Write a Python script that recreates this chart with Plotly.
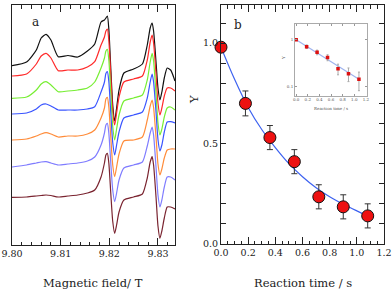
import plotly.graph_objects as go

# ---------------- data: panel a (EPR spectra, arbitrary units, offset stacked) -------------
field_T = [9.8000, 9.8030, 9.8050, 9.8060, 9.8070, 9.8080, 9.8095, 9.8115, 9.8135, 9.8155,
           9.8170, 9.8183, 9.8190, 9.8193, 9.8196, 9.8199, 9.8203, 9.8207, 9.8211, 9.8215,
           9.8220, 9.8230, 9.8250, 9.8268, 9.8278, 9.8284, 9.8288, 9.8291, 9.8296, 9.8300,
           9.8304, 9.8308, 9.8313, 9.8319, 9.8326, 9.8335]

spec_black = [184.3, 188, 200, 212, 215.7, 210, 193.3, 194.5, 193, 199, 206, 228, 230,
              232, 234, 221, 182, 145, 129, 142, 160, 177, 181, 186, 205, 222, 227, 219,
              188, 162, 150, 158, 172, 182, 180, 169]
spec_red = [174, 176, 186, 194, 196.7, 192, 179.3, 180, 180, 183, 188.3, 205, 213,
            219, 221, 209.5, 175, 139, 125, 137, 153, 168, 171, 174, 190, 208, 215, 207,
            176, 147, 135, 142, 154, 162, 162, 159]
spec_green = [151.7, 153, 160, 166, 168.3, 165, 158.3, 159, 160, 162, 168, 182, 192,
              199, 200.7, 190, 157, 124, 110, 121, 135, 149, 152, 155, 170, 188, 196.7, 189,
              156, 127, 115, 121, 133, 142, 143, 140]
spec_blue = [136, 137, 141, 145, 146, 144, 140, 140, 140, 141, 143.3, 158, 168,
             176.5, 178.3, 168.5, 137, 107.5, 95, 105, 118, 132, 135, 138, 152, 168, 176, 168,
             138, 110.5, 99, 105, 118, 128, 128.3, 127]
spec_orange = [110, 111, 114, 116, 117.3, 116, 113, 114, 114, 116, 120, 132, 142,
               151, 152.7, 143, 113, 85, 73.3, 83, 96, 109, 110, 113, 130, 144, 150, 142.5,
               113, 86, 75, 81, 92, 100, 101, 101]
spec_violet = [83, 85, 87, 88, 88.3, 87, 85, 86, 87, 89, 93, 105, 117,
               125, 126.7, 117, 87, 60, 48.3, 57, 70, 82, 85, 88, 104, 117, 123, 115,
               83, 55, 43, 50, 63, 73, 73, 70]
spec_maroon = [52.7, 53, 54, 54.5, 55, 54.5, 53, 54, 55, 57, 60, 73, 87,
               95, 96.7, 87, 57, 28.7, 16.7, 25, 38, 50, 53, 56, 72, 88, 93.3, 85,
               53, 24, 11.7, 19, 32, 43, 43, 41]

spectra = [spec_black, spec_red, spec_green, spec_blue, spec_orange, spec_violet, spec_maroon]
spec_colors = ["#111111", "#ff2a2a", "#77ee33", "#3a55ff", "#ff8c3a", "#7f7cff", "#7a2430"]

field_ticks = [9.80, 9.81, 9.82, 9.83]
field_ticktext = ["9.80", "9.81", "9.82", "9.83"]

# ---------------- data: panel b ----------------
time_s = [0.0, 0.18, 0.36, 0.54, 0.72, 0.90, 1.08]
Y_vals = [0.98, 0.70, 0.53, 0.41, 0.235, 0.185, 0.14]
Y_err = [0.0, 0.062, 0.06, 0.06, 0.06, 0.06, 0.06]

fit_t = [0.0, 0.1, 0.2, 0.3, 0.4, 0.5, 0.6, 0.7, 0.8, 0.9, 1.0, 1.08]
fit_Y = [0.98, 0.82, 0.68, 0.57, 0.48, 0.40, 0.335, 0.28, 0.235, 0.198, 0.165, 0.14]

y_tickvals = [0.0, 0.1, 0.2, 0.3, 0.4, 0.5, 0.6, 0.7, 0.8, 0.9, 1.0, 1.1]
y_ticktext = ["0.0", "", "", "", "", "0.5", "", "", "", "", "1.0", ""]

FONT = "DejaVu Serif"
W, H = 392, 291


def px(x):
    return x / W


def py(y):
    return 1 - y / H


fig = go.Figure()

for spec, col in zip(spectra, spec_colors):
    fig.add_trace(go.Scatter(x=field_T, y=spec, mode="lines",
                             line=dict(color=col, width=1.2, shape="spline", smoothing=0.6),
                             xaxis="x", yaxis="y", showlegend=False, hoverinfo="skip"))

fig.add_trace(go.Scatter(x=fit_t, y=fit_Y, mode="lines",
                         line=dict(color="#3d62f0", width=1.2, shape="spline"),
                         xaxis="x2", yaxis="y2", showlegend=False))
fig.add_trace(go.Scatter(x=time_s, y=Y_vals, mode="markers",
                         marker=dict(size=12, color="#ee1111", line=dict(color="#111111", width=1)),
                         error_y=dict(type="data", array=Y_err, color="#333333", thickness=1, width=3),
                         cliponaxis=False, xaxis="x2", yaxis="y2", showlegend=False))

# inset
fig.add_trace(go.Scatter(x=fit_t, y=fit_Y, mode="lines",
                         line=dict(color="#9fb3ee", width=1.2),
                         xaxis="x3", yaxis="y3", showlegend=False))
fig.add_trace(go.Scatter(x=time_s, y=Y_vals, mode="markers",
                         marker=dict(size=3.5, color="#dd1111", symbol="square"),
                         error_y=dict(type="data", array=Y_err, color="#aaaaaa", thickness=1, width=1),
                         xaxis="x3", yaxis="y3", showlegend=False))

axis_common = dict(showline=True, linecolor="#222222", linewidth=1, mirror="allticks",
                   showgrid=False, zeroline=False, ticks="inside", automargin=False,
                   tickfont=dict(family=FONT, size=9.5, color="#222222"))


def label(text, x, y, size, color="#222222", angle=0):
    return dict(text=text, x=px(x), y=py(y), xref="paper", yref="paper",
                xanchor="center", yanchor="middle", textangle=angle,
                showarrow=False, font=dict(family=FONT, size=size, color=color))


fig.update_layout(
    width=W, height=H,
    margin=dict(l=0, r=0, t=0, b=0, pad=0, autoexpand=False),
    paper_bgcolor="white", plot_bgcolor="white",
    xaxis=dict(domain=[px(12), px(175)], range=[9.80, 9.8335], anchor="y",
               tickvals=field_ticks, ticktext=field_ticktext, ticklen=7, tickcolor="#222222",
               minor=dict(dtick=0.002, tick0=9.80, ticklen=3.5, ticks="inside", tickcolor="#222222"),
               **axis_common),
    yaxis=dict(domain=[py(245), py(5)], range=[5, 245], anchor="x",
               showline=True, linecolor="#222222", linewidth=1, mirror=True, automargin=False,
               showgrid=False, zeroline=False, ticks="", showticklabels=False),
    xaxis2=dict(domain=[px(221), px(384)], range=[0, 1.2], anchor="y2",
                dtick=0.2, tick0=0, tickformat=".1f", ticklen=7, tickcolor="#222222",
                minor=dict(dtick=0.05, tick0=0, ticklen=3.5, ticks="inside", tickcolor="#222222"),
                **axis_common),
    yaxis2=dict(domain=[py(244), py(5)], range=[0, 1.19], anchor="x2",
                tickvals=y_tickvals, ticktext=y_ticktext, ticklen=5, tickcolor="#222222",
                **axis_common),
    xaxis3=dict(domain=[px(295), px(366.5)], range=[-0.02, 1.21], anchor="y3",
                dtick=0.2, tick0=0, tickformat=".1f", ticklen=2, tickcolor="#999999",
                showline=True, linecolor="#aaaaaa", linewidth=1, mirror="allticks", automargin=False,
                showgrid=False, zeroline=False, ticks="inside",
                tickfont=dict(family=FONT, size=4, color="#555555")),
    yaxis3=dict(domain=[py(95.5), py(24)], type="log", range=[-1.2, 0.33], anchor="x3",
                tickvals=[0.1, 1], ticktext=["0.1", "1"], ticklen=2, tickcolor="#999999",
                showline=True, linecolor="#aaaaaa", linewidth=1, mirror="allticks", automargin=False,
                showgrid=False, zeroline=False, ticks="inside",
                tickfont=dict(family=FONT, size=4, color="#555555")),
    annotations=[
        label("Magnetic field/ T", 93, 283, 11.5),
        label("Reaction time / s", 303, 283, 11.5),
        label("Y", 194, 100, 11.5, angle=-90),
        label("a", 35, 22, 12),
        label("b", 238, 25, 12),
        label("Y", 284, 58, 4, color="#555555", angle=-90),
        label("Reaction time / s", 331, 108, 4, color="#555555"),
    ],
)

fig.write_html("out.html", config={"displayModeBar": False},
               post_script="document.body.style.margin='0';document.body.style.overflow='hidden';")
